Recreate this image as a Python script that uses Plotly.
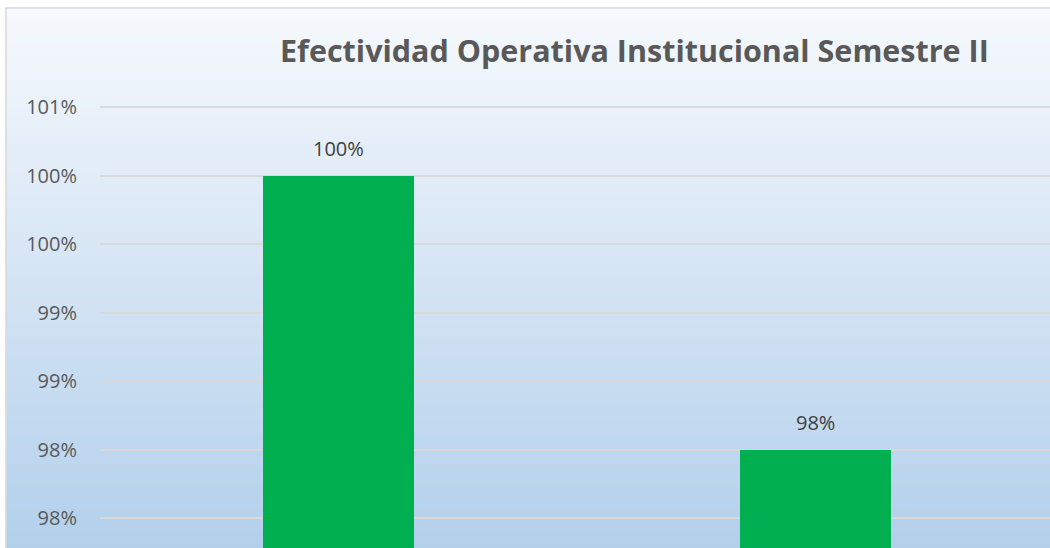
import plotly.graph_objects as go

# ---- data ----
categories = ["Semestre I", "Semestre II"]
values = [100.0, 98.0]
value_labels = ["100%", "98%"]
tick_values = [97.5, 98.0, 98.5, 99.0, 99.5, 100.0, 100.5]
tick_labels = ["98%", "98%", "99%", "99%", "100%", "100%", "101%"]
title_text = "Efectividad Operativa Institucional Semestre II"

W, H = 1050, 548
ML, MR, MT, MB = 100, 0, 100, 0
PW, PH = W - ML - MR, H - MT - MB


def px_x(px):
    return (px - ML) / PW


def px_y(py):
    return (H - MB - py) / PH


fig = go.Figure()
fig.add_trace(go.Bar(
    x=[0, 1], y=values, width=0.3145,
    marker=dict(color="#00b050", line=dict(width=0)),
    hoverinfo="skip",
))

# background gradient (chart area)
top_c = (246, 249, 253)
bot_c = (178, 207, 235)
y0, y1 = 8, 552
step = 4
shapes = []
py = y0
while py < y1:
    t = (py - y0) / (y1 - y0)
    c = tuple(round(top_c[i] + (bot_c[i] - top_c[i]) * t) for i in range(3))
    shapes.append(dict(
        type="rect", xref="paper", yref="paper", layer="below",
        x0=px_x(6), x1=px_x(1060), y0=px_y(py + step + 0.5), y1=px_y(py),
        fillcolor="rgb(%d,%d,%d)" % c, line=dict(width=0),
    ))
    py += step
# border
shapes.append(dict(
    type="rect", xref="paper", yref="paper", layer="above",
    x0=px_x(6), x1=px_x(1070), y0=px_y(570), y1=px_y(8),
    fillcolor="rgba(0,0,0,0)", line=dict(color="#d9d9d9", width=1.5),
))

annotations = [dict(
    x=px_x(634), y=px_y(50), xref="paper", yref="paper",
    text="<b>" + title_text + "</b>", showarrow=False,
    font=dict(family="Open Sans", size=30.5, color="#595959"),
    xanchor="center", yanchor="middle",
)]
for i, (v, lab) in enumerate(zip(values, value_labels)):
    annotations.append(dict(
        x=i, y=v, xref="x", yref="y", text=lab, showarrow=False,
        yanchor="bottom", xanchor="center", yshift=12,
        font=dict(family="Open Sans", size=20, color="#404040"),
    ))

cat_px = 477.0
fig.update_layout(
    width=W, height=H,
    margin=dict(l=ML, r=MR, t=MT, b=MB, pad=0),
    paper_bgcolor="white", plot_bgcolor="rgba(0,0,0,0)",
    showlegend=False, shapes=shapes, annotations=annotations,
    bargap=0,
    xaxis=dict(range=[-0.5, -0.5 + PW / cat_px], showgrid=False, zeroline=False,
               showticklabels=False, showline=False, fixedrange=True),
    yaxis=dict(range=[97.283, 100.553], tickvals=tick_values, ticktext=tick_labels,
               showgrid=True, gridcolor="#d9d9d9", gridwidth=1.5, zeroline=False,
               showline=False, ticks="", ticklabelstandoff=22,
               tickfont=dict(family="Open Sans", size=20, color="#595959")),
)

fig.write_html("out.html")
